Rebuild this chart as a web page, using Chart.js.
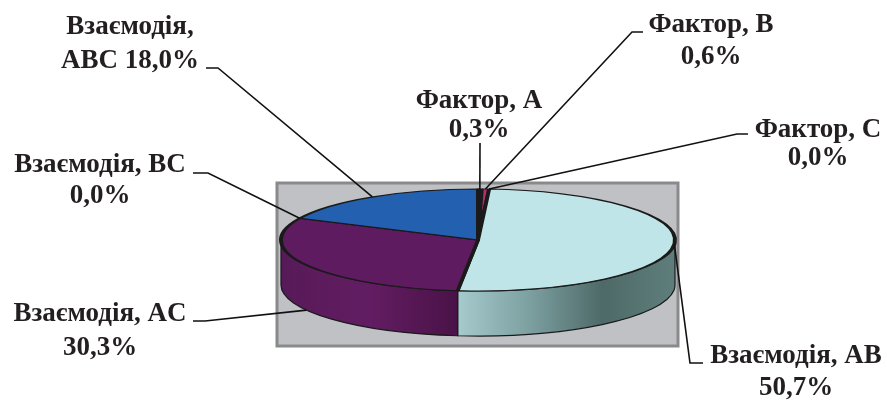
<!DOCTYPE html>
<html>
<head>
<meta charset="utf-8">
<script src="https://cdn.jsdelivr.net/npm/chart.js@4.4.1/dist/chart.umd.min.js"></script>
<style>
  html, body { margin: 0; padding: 0; background: #fff; }
  canvas { display: block; }
</style>
</head>
<body>
<canvas id="chart" width="887" height="401"></canvas>
<script>
// data
const categories = ['Фактор, A', 'Фактор, B', 'Фактор, C', 'Взаємодія, AB', 'Взаємодія, AC', 'Взаємодія, BC', 'Взаємодія, ABC'];
const shares = [0.3, 0.6, 0.0, 50.7, 30.3, 0.0, 18.0];

// styles
const topColors = ['#9b4d92', '#b52f72', '#d0d0d0', '#bfe5e8', '#5e1b5f', '#3b5ea6', '#2361b0'];
const sideStops = [
  ['#7a3a72', '#5e2a58'],
  ['#8e2458', '#6c1a44'],
  ['#a0a0a0', '#808080'],
  ['#a6cbcd', '#7c9fa0', '#4e6a68', '#5e7e7c'],
  ['#571a58', '#621d62', '#4a1247'],
  ['#2e4a84', '#223a6a'],
  ['#1b4c8c', '#143a6c'],
];
const TEXT = '#231f20';
const FONT = 'bold 27px "Liberation Serif", "Times New Roman", serif';

// 3d projection of the pie
const RX = 197, RY = 51, DEPTH = 45;

// label positions: x centre, baselines of the two lines, leader elbow, tail end x
const labelLayout = [
  { x: 479, y: [108, 137], elbow: [480, 143], tail: null },
  { x: 711, y: [32, 64], elbow: [632, 32], tail: 643 },
  { x: 818, y: [137, 165], elbow: [737, 134], tail: 748 },
  { x: 796, y: [363, 395], elbow: [690, 363], tail: 703 },
  { x: 100, y: [321, 355], elbow: [205, 321], tail: 193 },
  { x: 100, y: [172, 203], elbow: [208, 173], tail: 193 },
  { x: 130, y: [34, 68], elbow: [218, 68], tail: 206, split: true },
];

const fmtPct = v => v.toFixed(1).replace('.', ',') + '%';

function labelLines(i) {
  const name = categories[i];
  if (labelLayout[i].split) {
    const k = name.indexOf(',') + 1;
    return [name.slice(0, k), name.slice(k).trim() + ' ' + fmtPct(shares[i])];
  }
  return [name, fmtPct(shares[i])];
}

const pie3d = {
  id: 'pie3d',
  beforeDatasetsDraw(chart) {
    const ctx = chart.ctx;
    const arcs = chart.getDatasetMeta(0).data;
    const cx = arcs[0].x, cy = arcs[0].y, r = arcs[0].outerRadius;

    // grey plot area
    ctx.save();
    ctx.fillStyle = '#c0c1c5';
    ctx.strokeStyle = '#8a8a8c';
    ctx.lineWidth = 3;
    ctx.fillRect(cx - RX - 4, cy - RY - 6, 2 * RX + 7, 2 * RY + DEPTH + 16);
    ctx.strokeRect(cx - RX - 4, cy - RY - 6, 2 * RX + 7, 2 * RY + DEPTH + 16);

    // side walls, front half only
    arcs.forEach((arc, i) => {
      const a2 = arc.endAngle;
      const s = Math.max(arc.startAngle, 0), e = Math.min(a2, Math.PI);
      if (e <= s) return;
      const x1 = cx + RX * Math.cos(e), x2 = cx + RX * Math.cos(s);
      const g = ctx.createLinearGradient(Math.min(x1, x2), 0, Math.max(x1, x2), 0);
      const stops = sideStops[i];
      stops.forEach((c, k) => g.addColorStop(k / (stops.length - 1), c));
      ctx.beginPath();
      ctx.ellipse(cx, cy, RX, RY, 0, s, e, false);
      ctx.ellipse(cx, cy + DEPTH, RX, RY, 0, e, s, true);
      ctx.closePath();
      ctx.fillStyle = g;
      ctx.fill();
      ctx.strokeStyle = '#1a1a1a';
      ctx.lineWidth = 1.2;
      ctx.stroke();
      // vertical edge where the slice meets the next one
      if (a2 < Math.PI) {
        ctx.beginPath();
        ctx.moveTo(cx + RX * Math.cos(a2), cy + RY * Math.sin(a2));
        ctx.lineTo(cx + RX * Math.cos(a2), cy + RY * Math.sin(a2) + DEPTH);
        ctx.stroke();
      }
    });
    ctx.restore();

    // squash the top face
    ctx.save();
    ctx.translate(cx, cy);
    ctx.scale(RX / r, RY / r);
    ctx.translate(-cx, -cy);
  },
  afterDatasetsDraw(chart) {
    const ctx = chart.ctx;
    ctx.restore();
    const arcs = chart.getDatasetMeta(0).data;
    const cx = arcs[0].x, cy = arcs[0].y;

    ctx.save();
    ctx.strokeStyle = '#111';
    ctx.lineWidth = 1.6;
    ctx.fillStyle = TEXT;
    ctx.font = FONT;
    ctx.textAlign = 'center';
    ctx.textBaseline = 'alphabetic';
    arcs.forEach((arc, i) => {
      const L = labelLayout[i];
      const mid = (arc.startAngle + arc.endAngle) / 2;
      const ax = cx + RX * Math.cos(mid);
      let ay = cy + RY * Math.sin(mid);
      if (Math.sin(mid) > 0.3) ay += DEPTH;
      ctx.beginPath();
      ctx.moveTo(ax, ay);
      ctx.lineTo(L.elbow[0], L.elbow[1]);
      if (L.tail !== null) ctx.lineTo(L.tail, L.elbow[1]);
      ctx.stroke();
      const lines = labelLines(i);
      ctx.fillText(lines[0], L.x, L.y[0]);
      ctx.fillText(lines[1], L.x, L.y[1]);
    });
    ctx.restore();
  }
};

new Chart(document.getElementById('chart'), {
  type: 'pie',
  data: {
    labels: categories,
    datasets: [{
      data: shares,
      backgroundColor: topColors,
      borderColor: '#1a1a1a',
      borderWidth: 3,
      hoverOffset: 0,
      clip: false,
    }],
  },
  options: {
    responsive: false,
    animation: false,
    events: [],
    layout: { padding: { left: 328, right: 259, top: 90, bottom: 11 } },
    plugins: {
      legend: { display: false },
      tooltip: { enabled: false },
    },
  },
  plugins: [pie3d],
});
</script>
</body>
</html>
